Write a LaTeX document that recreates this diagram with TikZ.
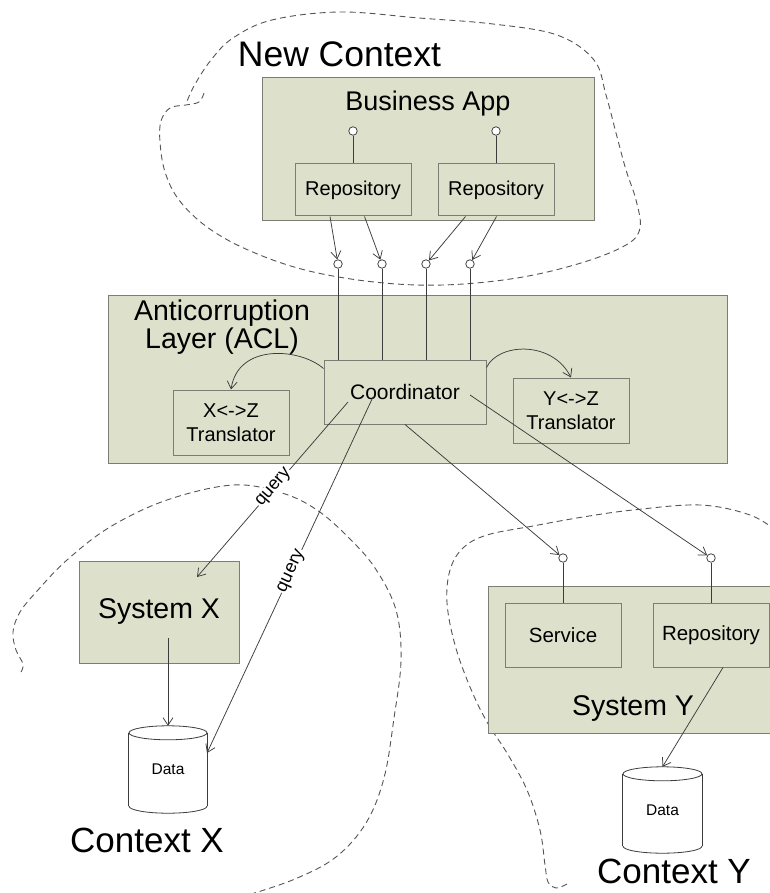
\documentclass[tikz,border=0pt]{standalone}
\usepackage{fontspec}
\setmainfont{Liberation Sans}
\usetikzlibrary{arrows.meta,calc}

\definecolor{boxfill}{RGB}{221,225,204}
\definecolor{boxline}{RGB}{125,125,118}
\definecolor{wirecol}{RGB}{60,60,60}
\definecolor{cloudcol}{RGB}{85,85,85}

\newcommand\fs[1]{\fontsize{#1}{#1}\selectfont}

% database cylinder drawn around a (invisible) rectangular node
% #1 = node name, #2 = horizontal radius
\newcommand\dbshape[2]{%
  \fill[white] ($(#1.north west)+(0,7)$) rectangle ($(#1.south east)+(0,-7)$);
  \fill[white] ($(#1.south)+(0,-7)$) ellipse [x radius=#2pt, y radius=7pt];
  \draw[dbline] ($(#1.north west)+(0,7)$) -- ($(#1.south west)+(0,-7)$);
  \draw[dbline] ($(#1.north east)+(0,7)$) -- ($(#1.south east)+(0,-7)$);
  \draw[dbline] ($(#1.north)+(0,7)$) ellipse [x radius=#2pt, y radius=7pt];
  \begin{scope}
    \clip ($(#1.south west)+(-3,-7)$) rectangle ($(#1.south east)+(3,3)$);
    \draw[dbline] ($(#1.south)+(0,-7)$) ellipse [x radius=#2pt, y radius=7pt];
  \end{scope}}

\begin{document}
\begin{tikzpicture}[x=1pt,y=-1pt,
  box/.style={draw=boxline,fill=boxfill,line width=1pt,inner sep=0pt,align=center},
  lbl/.style={inner sep=0pt,text=black},
  wire/.style={draw=wirecol,line width=0.75pt},
  arr/.style={wire,-{Straight Barb[length=7.5pt,width=10pt]}},
  lolly/.style={circle,draw=wirecol,fill=white,line width=0.75pt,minimum size=8.5pt,inner sep=0pt},
  cloud/.style={draw=cloudcol,line width=0.9pt,dash pattern=on 6pt off 4pt},
  dbline/.style={draw=wirecol,line width=0.8pt},
  qlbl/.style={fill=white,inner sep=1pt,font=\fs{18}},
  db/.style={inner sep=0pt,font=\fs{15.5}},
]
\fill[white] (0,0) rectangle (769,893);
\useasboundingbox (0,0) rectangle (769,893);

% ---------- bounded-context outlines ----------
\draw[cloud] plot[smooth,tension=0.6] coordinates {
  (204,93) (199,102) (186,105) (170,108) (161,121) (160,142) (165,172)
  (179,200) (207,227) (248,250) (305,270) (374,282) (443,285) (517,278)
  (581,263) (626,245) (640,228) (636,200) (626,170) (616,133) (606,95)
  (594,60) (557,35) (493,24) (419,18) (340,12) (272,20) (233,38)
  (211,60) (194,86) (186,104)};

\draw[cloud] plot[smooth,tension=0.6] coordinates {
  (21,672) (23,664) (16,650) (13,632) (20,612) (38,590) (67,560)
  (110,527) (167,500) (233,485) (282,493) (317,510) (348,537) (375,568)
  (396,610) (401,660) (394,718) (384,778) (366,823) (336,857) (295,879)
  (248,895)};

\draw[cloud] plot[smooth,tension=0.6] coordinates {
  (567,884) (556,888) (548,882) (545,865) (540,830) (527,790) (507,753)
  (487,722) (470,687) (455,645) (447,603) (450,570) (463,548) (487,535)
  (533,526) (583,517) (633,510) (700,505) (750,515) (778,532)};

% ---------- New Context ----------
\node[lbl,font=\fs{35.5},anchor=base] (newctx) at (339.5,67) {New Context};
\node[box,minimum width=332pt,minimum height=143pt] (ba) at (428,149.5) {};
\node[lbl,font=\fs{27},anchor=base] (batitle) at (428,111) {Business App};
\node[box,font=\fs{20},minimum width=116pt,minimum height=52pt] (r1) at (353,190) {Repository};
\node[box,font=\fs{20},minimum width=116pt,minimum height=52pt] (r2) at (496,190) {Repository};
\node[lolly] (c1) at (353,131) {};
\node[lolly] (c2) at (496,131) {};
\draw[wire] (c1) -- (r1.north);
\draw[wire] (c2) -- (r2.north);

% ---------- Anticorruption layer ----------
\node[box,minimum width=619pt,minimum height=168pt] (acl) at (417.5,379) {};
\node[lbl,font=\fs{28.5},anchor=base] (acl1) at (222,320) {Anticorruption};
\node[lbl,font=\fs{28.5},anchor=base] (acl2) at (222,348) {Layer (ACL)};
\node[box,font=\fs{21},minimum width=162pt,minimum height=64pt] (coord) at (405,392) {Coordinator};
\node[box,font=\fontsize{20}{23.5}\selectfont,minimum width=116pt,minimum height=65pt] (xz) at (231,422.5) {X<->Z\\Translator};
\node[box,font=\fontsize{20}{23.5}\selectfont,minimum width=116pt,minimum height=65pt] (yz) at (571,410.5) {Y<->Z\\Translator};

% interfaces offered by the coordinator
\node[lolly] (l1) at (338,264) {};
\node[lolly] (l2) at (382,264) {};
\node[lolly] (l3) at (426,264) {};
\node[lolly] (l4) at (470,264) {};
\foreach \n in {l1,l2,l3,l4} \draw[wire] (\n) -- (\n |- coord.north);

\draw[arr] ($(r1.south)+(-23,0)$) -- (l1);
\draw[arr] ($(r1.south)+(11.5,0)$) -- (l2);
\draw[arr] ($(r2.south)+(-30.5,0)$) -- (l3);
\draw[arr] ($(r2.south)+(0.5,0)$) -- (l4);

% coordinator uses the translators
\draw[arr] ($(coord.north west)+(0,9)$) .. controls (300,348) and (238,343) .. (xz.north);
\draw[arr] ($(coord.north east)+(0,8)$) .. controls (498,343) and (552,340) .. (yz.north);

% ---------- Context X ----------
\node[box,font=\fs{28.5},minimum width=160pt,minimum height=102pt] (sysx) at (159,612) {System X};
\node[db,minimum width=78pt,minimum height=87pt] (datax) at (168,769.5) {};
\dbshape{datax}{39}
\node[db] (dataxt) at (datax.center) {Data};
\node[lbl,font=\fs{35},anchor=base] (ctxx) at (147,852) {Context X};

\draw[arr] ($(sysx.center)+(9,26)$) -- (datax.north);

% ---------- Context Y ----------
\node[box,minimum width=302pt,minimum height=147pt] (sysy) at (639,659.5) {};
\node[lbl,font=\fs{28.5},anchor=base] (sysyt) at (633,715) {System Y};
\node[box,font=\fs{20.5},minimum width=116pt,minimum height=64pt] (svc) at (563,635) {Service};
\node[box,font=\fs{20.5},minimum width=116pt,minimum height=64pt] (repy) at (711,635) {Repository};
\node[lolly] (cy1) at (563,558) {};
\node[lolly] (cy2) at (711,558) {};
\draw[wire] (cy1) -- (svc.north);
\draw[wire] (cy2) -- (repy.north);

\node[db,minimum width=79pt,minimum height=86pt] (datay) at (662.5,810) {};
\dbshape{datay}{39.5}
\node[db] (datayt) at (datay.center) {Data};
\node[lbl,font=\fs{35},anchor=base] (ctxy) at (674,883) {Context Y};

\draw[arr] ($(repy.south)+(12,0)$) -- (datay.north);

% ---------- coordinator calls into both contexts ----------
\coordinate (q1s) at ($(coord.center)+(-57,10)$);
\coordinate (q2s) at ($(coord.center)+(-32,5)$);
\coordinate (q4s) at ($(coord.center)+(65,3)$);
\coordinate (q1e) at ($(sysx.center)+(38,-35)$);
\coordinate (q2e) at ($(datax.center)+(39,-16.5)$);

\draw[arr] (q1s) -- node[qlbl,sloped,pos=0.49] (qa) {query} (q1e);
\draw[arr] (q2s) -- node[qlbl,sloped,pos=0.49] (qb) {query} (q2e);
\draw[arr] (coord.south) -- (cy1);
\draw[arr] (q4s) -- (cy2);
\end{tikzpicture}
\end{document}
